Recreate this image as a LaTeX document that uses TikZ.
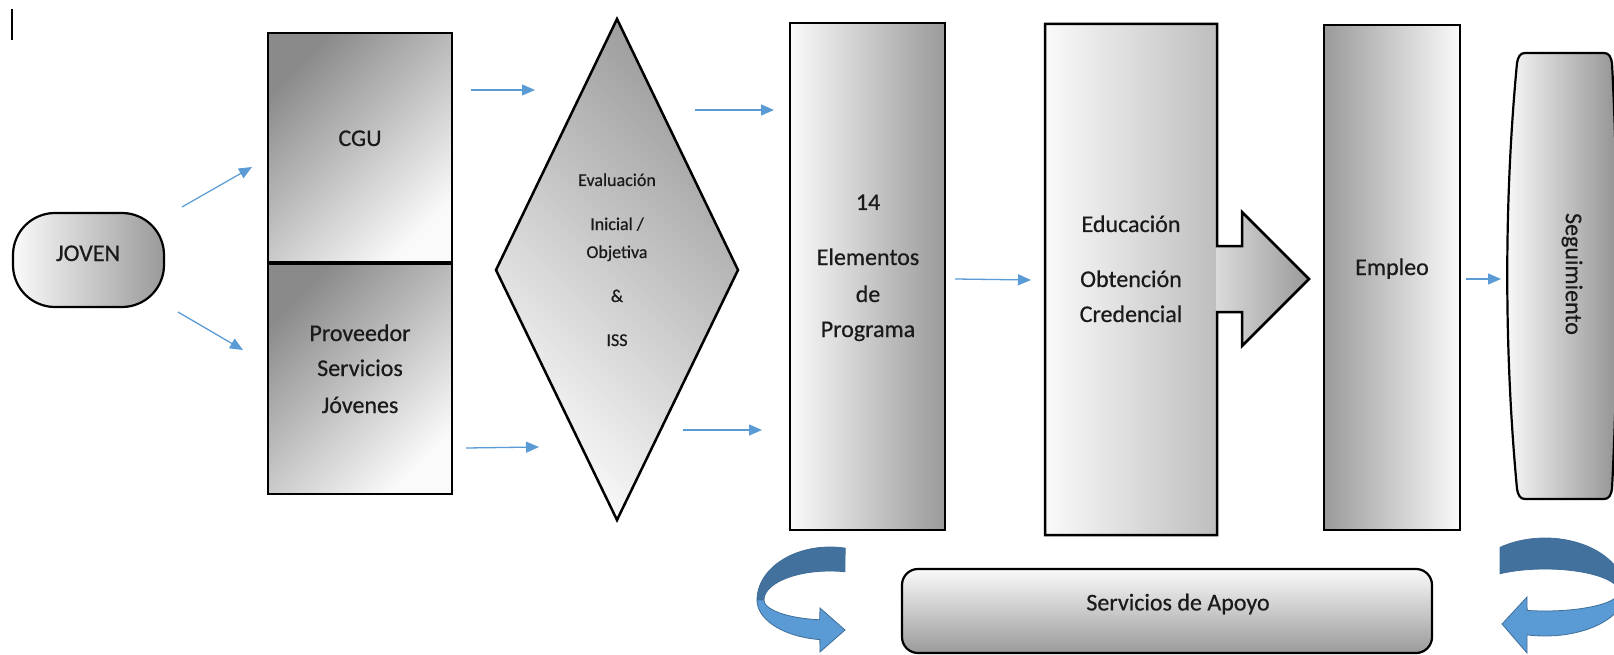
\documentclass[tikz,border=0pt]{standalone}
\usepackage{fontspec}
\setmainfont{Carlito}[FakeBold=0.5]
\usetikzlibrary{arrows.meta}
\definecolor{flowblue}{HTML}{5B9BD5}
\definecolor{darkband}{HTML}{41719C}
\definecolor{lightband}{HTML}{5B9BD5}
\definecolor{bandline}{HTML}{3F6E99}
\definecolor{gA}{HTML}{8A8A8A}
\definecolor{gB}{HTML}{FAFAFA}
\definecolor{gC}{HTML}{FAFAFA}
\definecolor{gD}{HTML}{9A9A9A}
\definecolor{gE}{HTML}{BEBEBE}
\definecolor{gF}{HTML}{DADADA}
\definecolor{txt}{HTML}{1A1A1A}
\begin{document}
\begin{tikzpicture}[x=1pt,y=-1pt,
  box/.style={draw=black, line width=2.5pt, line join=miter},
  flow/.style={draw=flowblue, line width=1.3pt, -{Triangle[length=13pt,width=11pt]}},
  lbl/.style={font=\fontsize{24}{28}\selectfont, text=txt, anchor=base, inner sep=0pt},
  slbl/.style={font=\fontsize{18}{22}\selectfont, text=txt, anchor=base, inner sep=0pt},
  dband/.style={fill=darkband, draw=bandline, line width=0.8pt},
  lband/.style={fill=lightband, draw=bandline, line width=0.8pt}]
\useasboundingbox (0,0) rectangle (1614,655);

% cursor mark
\draw[line width=1.5pt] (12,9) -- (12,40);

% JOVEN
\path[draw=black, line width=2.2pt, rounded corners=42pt, left color=gC, right color=gD] (13,213) rectangle (164,307);
\node[lbl] (joven) at (88,261) {JOVEN};

% CGU / Proveedor
\path[box, top color=gA, bottom color=gB, shading angle=45] (268,33) rectangle (452,263);
\path[box, top color=gA, bottom color=gB, shading angle=45] (268,263) rectangle (452,494);
\draw[line width=4pt] (268,263) -- (452,263);
\node[lbl] (cgu) at (360,146) {CGU};
\node[lbl] (prov1) at (360,341) {Proveedor};
\node[lbl] (prov2) at (360,376) {Servicios};
\node[lbl] (prov3) at (360,413) {Jóvenes};

% diamond
\path[box, top color=gA!85!white, bottom color=gB, shading angle=-45] (617,19) -- (738,270) -- (617,520) -- (496,270) -- cycle;
\node[slbl] (ev1) at (617,186) {Evaluación};
\node[slbl] (ev2) at (617,230) {Inicial /};
\node[slbl] (ev3) at (617,258) {Objetiva};
\node[slbl] (ev4) at (617,302) {\&};
\node[slbl] (ev5) at (617,346) {ISS};

% 14 Elementos
\path[box, left color=gC, right color=gD] (790,23) rectangle (945,530);
\node[lbl] (el1) at (868,210) {14};
\node[lbl] (el2) at (868,265) {Elementos};
\node[lbl] (el3) at (868,302) {de};
\node[lbl] (el4) at (868,337) {Programa};

% Educacion box with block arrow
\path[left color=gC, right color=gE] (1045,24) rectangle (1217,535);
\path[left color=gF, right color=gD] (1216,246) -- (1242,246) -- (1242,212) -- (1309,279) -- (1242,346) -- (1242,312) -- (1216,312) -- cycle;
\draw[box] (1045,24) -- (1217,24) -- (1217,246) -- (1242,246) -- (1242,212) -- (1309,279) -- (1242,346) -- (1242,312) -- (1217,312) -- (1217,535) -- (1045,535) -- cycle;
\node[lbl] (ed1) at (1131,232) {Educación};
\node[lbl] (ed2) at (1131,287) {Obtención};
\node[lbl] (ed3) at (1131,322) {Credencial};

% Empleo
\path[box, left color=gD, right color=gC] (1324,25) rectangle (1460,530);
\node[lbl] (emp) at (1392,275) {Empleo};

% Seguimiento
\path[draw=black, line width=2.2pt, left color=gC, right color=gD!95!black]
  (1525,53) -- (1604,53) .. controls (1609,53) and (1611,57) .. (1612,63)
  .. controls (1619,200) and (1619,350) .. (1612,489)
  .. controls (1611,495) and (1609,499) .. (1604,499) -- (1525,499)
  .. controls (1520,499) and (1518,495) .. (1517,489)
  .. controls (1504,350) and (1504,200) .. (1517,63)
  .. controls (1518,57) and (1520,53) .. (1525,53) -- cycle;
\node[font=\fontsize{24}{28}\selectfont, text=txt, rotate=-90, inner sep=0pt] (seg) at (1572,274) {Seguimiento};

% Servicios de Apoyo
\path[draw=black, line width=2.2pt, rounded corners=16pt, top color=gC, bottom color=gD] (902,569) rectangle (1432,653);
\node[font=\fontsize{24}{28}\selectfont, text=txt, inner sep=0pt] (apoyo) at (1178,604) {Servicios de Apoyo};

% flow arrows
\coordinate (a1s) at (182,207); \coordinate (a1e) at (252,167);
\coordinate (a2s) at (178,312); \coordinate (a2e) at (243,350);
\coordinate (a3s) at (471,90);  \coordinate (a3e) at (535,90);
\coordinate (a4s) at (466,448); \coordinate (a4e) at (539,447);
\coordinate (a5s) at (695,110); \coordinate (a5e) at (774,110);
\coordinate (a6s) at (683,430); \coordinate (a6e) at (762,430);
\coordinate (a7s) at (955,279); \coordinate (a7e) at (1031,280);
\coordinate (a8s) at (1466,279); \coordinate (a8e) at (1501,279);
\foreach \a in {1,...,8} { \draw[flow] (a\a s) -- (a\a e); }

% left circular arrow
\path[dband] plot[domain=78:180, samples=40] ({830+73*cos(\x)},{600-53*sin(\x)})
  -- plot[domain=180:77, samples=40] ({830+66*cos(\x)},{600-29*sin(\x)}) -- cycle;
\path[lband] plot[domain=180:98, samples=40] ({830+73*cos(\x)},{600+40*sin(\x)})
  -- (820,652) -- (845,630) -- (820,608)
  -- plot[domain=99:180, samples=40] ({830+66*cos(\x)},{600+20*sin(\x)}) -- cycle;

% right circular arrow
\path[dband] plot[domain=124.2:0, samples=40] ({1545+80*cos(\x)},{592-54*sin(\x)})
  -- plot[domain=0:127.4, samples=40] ({1545+74*cos(\x)},{592-23*sin(\x)}) -- cycle;
\path[lband] plot[domain=0:103, samples=40] ({1545+80*cos(\x)},{592+44*sin(\x)})
  -- (1527,653) -- (1502,624) -- (1527,597)
  -- plot[domain=104:0, samples=40] ({1545+74*cos(\x)},{592+19*sin(\x)}) -- cycle;
\end{tikzpicture}
\end{document}
